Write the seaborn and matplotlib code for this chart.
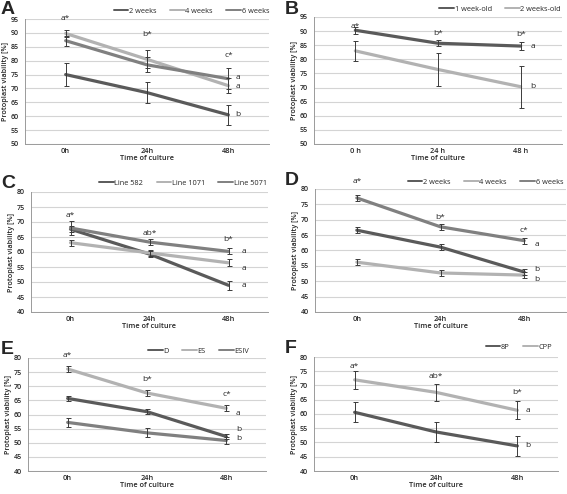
import numpy as np
import pandas as pd
import matplotlib
matplotlib.use("Agg")
import matplotlib.pyplot as plt
import seaborn as sns

sns.set_style("white")
plt.rcParams['font.family'] = ['Open Sans', 'DejaVu Sans']

DARK, LIGHT, MID = "#5a5a5a", "#b2b2b2", "#808080"

times_A = ["0h", "24h", "48h"]
times_B = ["0 h", "24 h", "48 h"]

# Panel A
A_series = ["2 weeks", "4 weeks", "6 weeks"]
A_vals = [[75.0, 68.5, 60.5], [89.8, 80.5, 71.0], [87.2, 78.5, 73.5]]
A_errs = [[4.1, 3.7, 3.7], [1.2, 3.2, 2.7], [1.8, 2.7, 3.8]]
A_top = ["a*", "b*", "c*"]
A_top_y = [95.3, 89.3, 81.8]
A_right = ["b", "a", "a"]
A_right_y = [60.5, 70.6, 73.9]

# Panel B
B_series = ["1 week-old", "2 weeks-old"]
B_vals = [[90.3, 85.7, 84.7], [83.0, 76.4, 70.3]]
B_errs = [[1.2, 1.0, 1.3], [3.6, 6.0, 7.4]]
B_top = ["a*", "b*", "b*"]
B_top_y = [91.8, 89.2, 88.9]
B_right = ["a", "b"]
B_right_y = [84.6, 70.5]

# Panel C
C_series = ["Line 582", "Line 1071", "Line 5071"]
C_vals = [[67.6, 59.3, 48.9], [63.1, 59.7, 56.4], [68.0, 63.3, 60.2]]
C_errs = [[1.0, 1.0, 1.4], [1.0, 1.0, 1.1], [2.3, 1.0, 1.0]]
C_top = ["a*", "ab*", "b*"]
C_top_y = [72.2, 66.3, 64.3]
C_right = ["a", "a", "a"]
C_right_y = [48.8, 54.6, 60.3]

# Panel D
D_series = ["2 weeks", "4 weeks", "6 weeks"]
D_vals = [[66.6, 61.1, 53.0], [56.2, 52.7, 52.0], [77.1, 67.7, 63.2]]
D_errs = [[0.9, 0.9, 0.9], [1.0, 0.9, 1.0], [0.9, 0.9, 1.0]]
D_top = ["a*", "b*", "c*"]
D_top_y = [82.6, 70.8, 66.4]
D_right = ["b", "b", "a"]
D_right_y = [53.7, 50.7, 62.0]

# Panel E
E_series = ["D", "ES", "ESIV"]
E_vals = [[65.7, 61.0, 52.2], [76.1, 67.6, 62.2], [57.2, 53.5, 50.8]]
E_errs = [[0.9, 0.9, 0.8], [1.0, 0.9, 1.0], [1.7, 1.6, 1.3]]
E_top = ["a*", "b*", "c*"]
E_top_y = [80.8, 72.3, 67.2]
E_right = ["b", "a", "b"]
E_right_y = [54.8, 60.2, 51.6]

# Panel F
F_series = ["8P", "CPP"]
F_vals = [[60.6, 53.7, 48.8], [72.0, 67.6, 61.3]]
F_errs = [[3.5, 3.4, 3.5], [3.1, 3.1, 3.2]]
F_top = ["a*", "ab*", "b*"]
F_top_y = [76.5, 73.0, 67.7]
F_right = ["b", "a"]
F_right_y = [48.8, 61.3]

W, H = 567, 494
fig = plt.figure(figsize=(W / 100, H / 100), dpi=100)


def box(l, r, t, b):
    return [l / W, 1 - b / H, (r - l) / W, (b - t) / H]


def panel(rect, letter, letter_xy, times, series, vals, errs, colors, ylim,
          top, top_y, right, right_y, right_dx, leg_y, leg_x1):
    ax = fig.add_axes(box(*rect))
    rows = []
    for s, v in zip(series, vals):
        for i, t in enumerate(times):
            rows.append({"pos": i, "time": t, "series": s, "value": v[i]})
    df = pd.DataFrame(rows)
    sns.lineplot(data=df, x="pos", y="value", hue="series", hue_order=series,
                 palette=colors, linewidth=2.3, ax=ax, legend=True,
                 errorbar=None, zorder=3)
    for s, v, e in zip(series, vals, errs):
        ax.errorbar(range(len(times)), v, yerr=e, fmt="none", ecolor="#3a3a3a",
                    elinewidth=0.7, capsize=1.8, capthick=0.7, zorder=4)
    ax.set_xlim(-0.5, 2.5)
    ax.set_ylim(*ylim)
    ax.set_yticks(np.arange(ylim[0], ylim[1] + 0.1, 5))
    ax.set_xticks(range(3))
    ax.set_xticklabels(times)
    ax.set_xticks([0.5, 1.5, 2.5], minor=True)
    ax.tick_params(axis="x", which="major", length=0, labelsize=5.3, pad=2.8)
    ax.tick_params(axis="x", which="minor", length=3, color="#9a9a9a", width=0.6)
    ax.tick_params(axis="y", length=3, color="#9a9a9a", width=0.6,
                   labelsize=5.1, pad=1.5)
    for lab in ax.get_xticklabels() + ax.get_yticklabels():
        lab.set_fontweight("semibold")
    ax.yaxis.grid(True, color="#d4d4d4", linewidth=0.8)
    ax.set_axisbelow(True)
    for sp in ["top", "right"]:
        ax.spines[sp].set_visible(False)
    for sp in ["left", "bottom"]:
        ax.spines[sp].set_color("#9a9a9a")
        ax.spines[sp].set_linewidth(0.7)
    ax.set_xlabel("Time of culture", fontsize=5.3, labelpad=0.2,
                  fontweight="semibold")
    ax.set_ylabel("Protoplast viability [%]", fontsize=5.2, labelpad=1,
                  fontweight="semibold")
    for i, (t, y) in enumerate(zip(top, top_y)):
        ax.text(i, y, t, ha="center", va="center", fontsize=6, clip_on=False)
    for t, y in zip(right, right_y):
        ax.text(2 + right_dx, y, t, ha="left", va="center", fontsize=6)
    leg = ax.legend(loc="center right", bbox_to_anchor=(leg_x1, leg_y),
                    bbox_transform=fig.transFigure, ncol=len(series),
                    frameon=False, fontsize=5.3, handlelength=2.0,
                    handletextpad=0.1, columnspacing=1.8, borderaxespad=0)
    for ln in leg.get_lines():
        ln.set_linewidth(1.4)
    fig.text(letter_xy[0] / W, 1 - letter_xy[1] / H, letter, fontsize=14,
             fontweight="bold", family="Liberation Sans", ha="left", va="top")
    return ax


panel((25, 269, 19, 144), "A", (1, 1), times_A, A_series, A_vals, A_errs,
      [DARK, LIGHT, MID], (50, 95), A_top, A_top_y, A_right, A_right_y, 0.09,
      1 - 11 / H, 272 / W)
panel((314, 562, 17, 144), "B", (285, 1), times_B, B_series, B_vals, B_errs,
      [DARK, LIGHT], (50, 95), B_top, B_top_y, B_right, B_right_y, 0.12,
      1 - 9 / H, 564 / W)
panel((31, 268, 192, 312), "C", (1, 175), times_A, C_series, C_vals, C_errs,
      [DARK, LIGHT, MID], (40, 80), C_top, C_top_y, C_right, C_right_y, 0.17,
      1 - 183 / H, 270 / W)
panel((315, 566, 189, 312), "D", (285, 172), times_A, D_series, D_vals, D_errs,
      [DARK, LIGHT, MID], (40, 80), D_top, D_top_y, D_right, D_right_y, 0.12,
      1 - 182 / H, 566 / W)
panel((28, 266, 358, 471), "E", (1, 341), times_A, E_series, E_vals, E_errs,
      [DARK, LIGHT, MID], (40, 80), E_top, E_top_y, E_right, E_right_y, 0.12,
      1 - 351 / H, 252 / W)
panel((314, 558, 357, 471), "F", (285, 340), times_A, F_series, F_vals, F_errs,
      [DARK, LIGHT], (40, 80), F_top, F_top_y, F_right, F_right_y, 0.1,
      1 - 347 / H, 555 / W)

fig.savefig("out.png", dpi=100)
